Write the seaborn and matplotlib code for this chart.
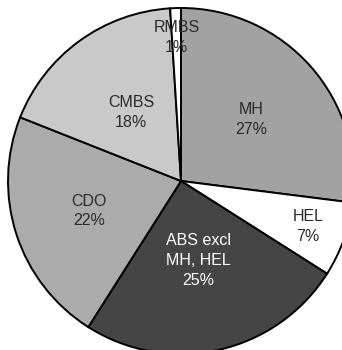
import matplotlib

matplotlib.use("Agg")
import matplotlib.pyplot as plt
import numpy as np
import seaborn as sns

# slices, clockwise from 12 o'clock
sectors = ["MH", "HEL", "ABS excl\nMH, HEL", "CDO", "CMBS", "RMBS"]
shares = [27, 7, 25, 22, 18, 1]

fills = ["#a2a2a2", "#ffffff", "#454545", "#ababab", "#c9c9c9", "#ffffff"]
text_colors = ["#2a2a2a", "#2a2a2a", "#ffffff", "#2a2a2a", "#2a2a2a", "#2a2a2a"]
label_radius = [0.54, 0.78, 0.47, 0.56, 0.49, 0.83]

sns.set_theme(style="white")
plt.rcParams["font.family"] = ["Liberation Sans", "DejaVu Sans"]

fig = plt.figure(figsize=(3.42, 3.50), dpi=100)
r_px = 173
cx, cy = 181, 181
ax = fig.add_axes([(cx - r_px) / 342, (350 - cy - r_px) / 350, 2 * r_px / 342, 2 * r_px / 350])

wedges, _ = ax.pie(
    shares,
    colors=fills,
    startangle=90,
    counterclock=False,
    radius=1.0,
    wedgeprops=dict(edgecolor="black", linewidth=1.4),
)
ax.set_xlim(-1, 1)
ax.set_ylim(-1, 1)
ax.set_aspect("auto")
ax.axis("off")

for w, name, pct, tc, rf in zip(wedges, sectors, shares, text_colors, label_radius):
    mid = np.deg2rad((w.theta1 + w.theta2) / 2)
    ax.text(
        rf * np.cos(mid),
        rf * np.sin(mid),
        f"{name}\n{pct}%",
        ha="center",
        va="center",
        fontsize=11.5,
        color=tc,
        linespacing=1.4,
    )

fig.savefig("out.png", dpi=100)
